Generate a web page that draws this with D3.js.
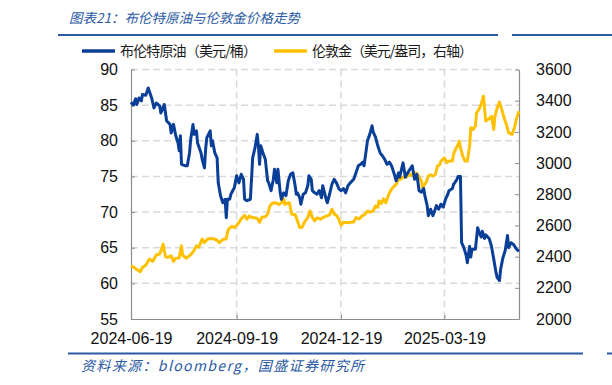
<!DOCTYPE html>
<html>
<head>
<meta charset="utf-8">
<script src="https://cdn.jsdelivr.net/npm/d3@7"></script>
<style>
  html, body { margin: 0; padding: 0; background: #fff; }
  svg { display: block; }
</style>
</head>
<body>
<div id="chart"></div>
<script>
// Brent crude (USD/bbl), left axis
const oil = [
  ["2024-06-19",85.4],["2024-06-21",85.0],["2024-06-23",85.9],["2024-06-24",85.1],["2024-06-26",86.0],
  ["2024-06-28",85.6],["2024-06-29",86.5],["2024-07-02",86.4],["2024-07-04",87.4],["2024-07-07",86.0],
  ["2024-07-09",84.6],["2024-07-11",85.3],["2024-07-14",84.9],["2024-07-15",83.9],["2024-07-18",85.1],
  ["2024-07-20",82.8],["2024-07-23",82.3],["2024-07-24",81.1],["2024-07-26",82.3],["2024-07-28",80.7],
  ["2024-07-30",79.7],["2024-07-31",78.6],["2024-08-01",80.7],["2024-08-02",76.7],["2024-08-05",76.5],
  ["2024-08-07",76.5],["2024-08-09",78.3],["2024-08-10",80.2],["2024-08-12",82.3],["2024-08-13",80.9],
  ["2024-08-15",81.4],["2024-08-16",79.7],["2024-08-19",78.3],["2024-08-20",77.4],["2024-08-22",76.2],
  ["2024-08-23",78.8],["2024-08-24",80.4],["2024-08-27",81.4],["2024-08-28",79.3],["2024-08-29",80.0],
  ["2024-08-31",78.3],["2024-09-02",77.6],["2024-09-03",74.1],["2024-09-05",72.3],["2024-09-07",71.3],
  ["2024-09-09",71.8],["2024-09-10",69.2],["2024-09-11",71.8],["2024-09-13",71.8],["2024-09-14",72.5],
  ["2024-09-17",73.4],["2024-09-19",75.1],["2024-09-21",74.1],["2024-09-23",75.3],["2024-09-25",74.6],
  ["2024-09-26",71.8],["2024-09-28",71.6],["2024-10-01",71.8],["2024-10-03",77.6],["2024-10-05",79.0],
  ["2024-10-07",80.9],["2024-10-08",79.3],["2024-10-09",76.7],["2024-10-10",79.3],["2024-10-12",78.3],
  ["2024-10-14",77.4],["2024-10-16",74.4],["2024-10-17",74.1],["2024-10-19",73.0],["2024-10-21",74.6],
  ["2024-10-22",76.0],["2024-10-24",74.1],["2024-10-25",76.0],["2024-10-27",72.7],["2024-10-28",71.8],
  ["2024-10-30",72.7],["2024-11-01",72.3],["2024-11-03",74.4],["2024-11-05",75.3],["2024-11-07",75.5],
  ["2024-11-09",73.7],["2024-11-10",72.5],["2024-11-11",72.7],["2024-11-13",72.0],["2024-11-14",71.1],
  ["2024-11-16",72.5],["2024-11-18",72.7],["2024-11-20",73.7],["2024-11-21",75.1],["2024-11-23",74.6],
  ["2024-11-24",73.0],["2024-11-26",72.7],["2024-11-28",72.5],["2024-11-30",73.0],["2024-12-02",72.0],
  ["2024-12-03",73.7],["2024-12-06",71.8],["2024-12-07",71.3],["2024-12-09",72.5],["2024-12-11",73.9],
  ["2024-12-13",74.6],["2024-12-15",74.1],["2024-12-17",73.3],["2024-12-19",73.0],["2024-12-21",73.3],
  ["2024-12-23",72.7],["2024-12-25",73.7],["2024-12-27",74.1],["2024-12-30",74.6],["2025-01-01",75.5],
  ["2025-01-03",76.5],["2025-01-05",76.7],["2025-01-07",77.0],["2025-01-08",76.5],["2025-01-10",78.8],
  ["2025-01-11",80.0],["2025-01-13",80.9],["2025-01-15",82.1],["2025-01-16",81.2],["2025-01-18",80.5],
  ["2025-01-20",79.3],["2025-01-22",78.3],["2025-01-24",77.9],["2025-01-26",77.4],["2025-01-28",76.7],
  ["2025-01-30",77.0],["2025-02-01",76.5],["2025-02-03",75.5],["2025-02-05",74.4],["2025-02-07",75.5],
  ["2025-02-08",74.9],["2025-02-11",76.9],["2025-02-13",74.9],["2025-02-15",75.5],["2025-02-17",76.0],
  ["2025-02-19",76.5],["2025-02-21",74.6],["2025-02-23",75.3],["2025-02-25",73.0],["2025-02-27",72.8],
  ["2025-03-01",73.3],["2025-03-02",72.3],["2025-03-04",70.9],["2025-03-05",69.5],["2025-03-07",70.4],
  ["2025-03-09",69.5],["2025-03-10",69.9],["2025-03-12",70.9],["2025-03-14",70.4],["2025-03-16",71.1],
  ["2025-03-18",70.7],["2025-03-20",71.8],["2025-03-22",72.5],["2025-03-23",73.0],["2025-03-26",73.3],
  ["2025-03-27",73.9],["2025-03-28",74.1],["2025-03-30",74.6],["2025-03-31",75.0],["2025-04-02",75.0],
  ["2025-04-03",65.7],["2025-04-05",65.0],["2025-04-07",63.9],["2025-04-08",62.9],["2025-04-10",65.2],
  ["2025-04-11",63.7],["2025-04-12",64.8],["2025-04-14",64.8],["2025-04-15",64.8],["2025-04-17",67.8],
  ["2025-04-18",67.3],["2025-04-20",66.5],["2025-04-21",67.3],["2025-04-23",66.3],["2025-04-24",66.8],
  ["2025-04-27",66.3],["2025-04-29",65.2],["2025-05-01",63.4],["2025-05-03",61.5],["2025-05-04",60.8],
  ["2025-05-06",60.4],["2025-05-07",62.0],["2025-05-09",63.6],["2025-05-11",64.6],["2025-05-13",66.7],
  ["2025-05-14",65.0],["2025-05-16",65.7],["2025-05-18",65.5],["2025-05-20",65.0],["2025-05-22",64.6],
  ["2025-05-23",64.5]
];

// London gold (USD/oz), right axis
const gold = [
  ["2024-06-19",2341],["2024-06-22",2330],["2024-06-24",2318],["2024-06-27",2303],["2024-06-29",2330],
  ["2024-07-02",2346],["2024-07-05",2384],["2024-07-08",2370],["2024-07-11",2410],["2024-07-14",2416],
  ["2024-07-17",2480],["2024-07-19",2400],["2024-07-21",2395],["2024-07-24",2405],["2024-07-26",2370],
  ["2024-07-28",2390],["2024-07-31",2392],["2024-08-02",2469],["2024-08-03",2410],["2024-08-06",2390],
  ["2024-08-09",2405],["2024-08-12",2430],["2024-08-15",2469],["2024-08-17",2460],["2024-08-20",2512],
  ["2024-08-22",2490],["2024-08-25",2515],["2024-08-29",2517],["2024-09-02",2505],["2024-09-04",2490],
  ["2024-09-07",2510],["2024-09-10",2515],["2024-09-11",2555],["2024-09-12",2576],["2024-09-15",2595],
  ["2024-09-17",2585],["2024-09-20",2608],["2024-09-22",2630],["2024-09-24",2650],["2024-09-26",2665],
  ["2024-09-28",2640],["2024-09-30",2660],["2024-10-02",2652],["2024-10-04",2650],["2024-10-07",2645],
  ["2024-10-09",2620],["2024-10-11",2652],["2024-10-14",2655],["2024-10-16",2672],["2024-10-18",2725],
  ["2024-10-20",2742],["2024-10-23",2745],["2024-10-26",2735],["2024-10-28",2745],["2024-10-30",2772],
  ["2024-10-31",2735],["2024-11-02",2742],["2024-11-04",2745],["2024-11-06",2672],["2024-11-09",2670],
  ["2024-11-11",2630],["2024-11-13",2586],["2024-11-15",2588],["2024-11-17",2620],["2024-11-20",2650],
  ["2024-11-22",2693],["2024-11-24",2650],["2024-11-26",2630],["2024-11-28",2648],["2024-12-01",2640],
  ["2024-12-03",2650],["2024-12-06",2660],["2024-12-09",2668],["2024-12-11",2704],["2024-12-13",2672],
  ["2024-12-15",2665],["2024-12-17",2640],["2024-12-19",2601],["2024-12-21",2620],["2024-12-24",2617],
  ["2024-12-27",2620],["2024-12-30",2622],["2025-01-01",2650],["2025-01-04",2642],["2025-01-06",2660],
  ["2025-01-09",2672],["2025-01-11",2693],["2025-01-13",2685],["2025-01-16",2693],["2025-01-18",2725],
  ["2025-01-20",2717],["2025-01-21",2757],["2025-01-23",2740],["2025-01-25",2770],["2025-01-27",2745],
  ["2025-01-29",2789],["2025-01-31",2821],["2025-02-02",2842],["2025-02-05",2864],["2025-02-07",2896],
  ["2025-02-09",2896],["2025-02-11",2910],["2025-02-14",2910],["2025-02-16",2928],["2025-02-18",2920],
  ["2025-02-20",2938],["2025-02-23",2935],["2025-02-25",2910],["2025-02-27",2885],["2025-02-28",2842],
  ["2025-03-03",2874],["2025-03-05",2917],["2025-03-07",2925],["2025-03-09",2917],["2025-03-11",2925],
  ["2025-03-13",2981],["2025-03-15",2990],["2025-03-16",3013],["2025-03-19",3034],["2025-03-21",3003],
  ["2025-03-23",3013],["2025-03-26",3013],["2025-03-27",3056],["2025-03-28",3077],["2025-03-31",3120],
  ["2025-04-01",3141],["2025-04-02",3098],["2025-04-04",3045],["2025-04-06",3013],["2025-04-08",3013],
  ["2025-04-10",3109],["2025-04-11",3226],["2025-04-13",3215],["2025-04-15",3237],["2025-04-16",3322],
  ["2025-04-18",3343],["2025-04-20",3376],["2025-04-22",3429],["2025-04-23",3354],["2025-04-24",3269],
  ["2025-04-26",3280],["2025-04-28",3290],["2025-04-29",3300],["2025-05-01",3216],["2025-05-02",3300],
  ["2025-05-04",3354],["2025-05-06",3391],["2025-05-08",3343],["2025-05-10",3290],["2025-05-12",3247],
  ["2025-05-14",3194],["2025-05-17",3184],["2025-05-19",3226],["2025-05-21",3290],["2025-05-23",3333]
];

const dateTicks = ["2024-06-19", "2024-09-19", "2024-12-19", "2025-03-19"];
const oilTicks = [55, 60, 65, 70, 75, 80, 85, 90];
const goldTicks = [2000, 2200, 2400, 2600, 2800, 3000, 3200, 3400, 3600];
const xDomain = ["2024-06-19", "2025-05-23"];

const title = "图表21：布伦特原油与伦敦金价格走势";
const source = "资料来源：bloomberg，国盛证券研究所";
const seriesNames = ["布伦特原油（美元/桶）", "伦敦金（美元/盎司，右轴）"];

const W = 612, H = 385;
const plot = { left: 131, right: 519, top: 69.5, bottom: 319 };
const BLUE = "#0a3f98", GOLD = "#ffc000", NAVY = "#2b5aa3";
const cjk = "'Noto Sans CJK SC', 'Noto Sans', sans-serif";
const num = "'Liberation Sans', Arial, sans-serif";

const parse = d3.timeParse("%Y-%m-%d");

const svg = d3.select("#chart").append("svg")
  .attr("width", W).attr("height", H);

const x = d3.scaleTime()
  .domain(xDomain.map(parse))
  .range([plot.left, plot.right]);
const yL = d3.scaleLinear().domain([55, 90]).range([plot.bottom, plot.top]);
const yR = d3.scaleLinear().domain([2000, 3600]).range([plot.bottom, plot.top]);

// title and rules
svg.append("text")
  .attr("x", 69).attr("y", 23)
  .attr("font-family", cjk).attr("font-size", 13.5)
  .attr("font-style", "italic").attr("fill", NAVY)
  .text(title);

const rules = [[58, 498, 35], [512, 612, 35], [68, 583, 353.5], [607, 612, 353.5]];
svg.selectAll("line.rule").data(rules).enter().append("line")
  .attr("class", "rule")
  .attr("x1", d => d[0]).attr("x2", d => d[1])
  .attr("y1", d => d[2]).attr("y2", d => d[2])
  .attr("stroke", NAVY).attr("stroke-width", 2);

// legend
const legend = svg.append("g");
const legendItems = [
  { name: seriesNames[0], color: BLUE, x: 82, len: 137 },
  { name: seriesNames[1], color: GOLD, x: 274, len: 161 }
];
legendItems.forEach(item => {
  legend.append("line")
    .attr("x1", item.x).attr("x2", item.x + 33)
    .attr("y1", 51).attr("y2", 51)
    .attr("stroke", item.color).attr("stroke-width", 3.5);
  legend.append("text")
    .attr("x", item.x + 38).attr("y", 56)
    .attr("font-family", cjk).attr("font-size", 14)
    .attr("fill", "#1a1a1a")
    .attr("textLength", item.len).attr("lengthAdjust", "spacing")
    .text(item.name);
});

// gridlines
const grid = svg.append("g")
  .attr("stroke", "#d9d9d9").attr("stroke-width", 1.5)
  .attr("stroke-dasharray", "7,4");
grid.selectAll("line.h").data(oilTicks.slice(1)).enter().append("line")
  .attr("x1", plot.left).attr("x2", plot.right)
  .attr("y1", d => yL(d)).attr("y2", d => yL(d));
grid.selectAll("line.v").data(dateTicks.slice(1)).enter().append("line")
  .attr("x1", d => x(parse(d))).attr("x2", d => x(parse(d)))
  .attr("y1", plot.top).attr("y2", plot.bottom);

// axes
const axisColor = "#8c8c8c";
const styleAxis = g => {
  g.select(".domain").attr("stroke", axisColor).attr("stroke-width", 1.2);
  g.selectAll(".tick line").attr("stroke", axisColor);
  g.selectAll(".tick text").attr("font-family", num).attr("font-size", 16).attr("fill", "#111");
};

svg.append("g")
  .attr("transform", `translate(${plot.left},0)`)
  .call(d3.axisLeft(yL).tickValues(oilTicks).tickSizeInner(-4).tickSizeOuter(0).tickPadding(13))
  .call(styleAxis);

svg.append("g")
  .attr("transform", `translate(${plot.right},0)`)
  .call(d3.axisRight(yR).tickValues(goldTicks).tickFormat(d3.format("d"))
    .tickSizeInner(-4).tickSizeOuter(0).tickPadding(17))
  .call(styleAxis);

svg.append("g")
  .attr("transform", `translate(0,${plot.bottom})`)
  .call(d3.axisBottom(x).tickValues(dateTicks.map(parse))
    .tickFormat(d3.timeFormat("%Y-%m-%d")).tickSizeInner(-4).tickSizeOuter(0).tickPadding(14))
  .call(styleAxis);

// series
const lineOil = d3.line().x(d => x(parse(d[0]))).y(d => yL(d[1]));
const lineGold = d3.line().x(d => x(parse(d[0]))).y(d => yR(d[1]));

svg.append("path").datum(gold)
  .attr("d", lineGold).attr("fill", "none")
  .attr("stroke", GOLD).attr("stroke-width", 3)
  .attr("stroke-linejoin", "round");

svg.append("path").datum(oil)
  .attr("d", lineOil).attr("fill", "none")
  .attr("stroke", BLUE).attr("stroke-width", 3)
  .attr("stroke-linejoin", "round");

// source note
svg.append("text")
  .attr("x", 81).attr("y", 371)
  .attr("font-family", cjk).attr("font-size", 14)
  .attr("font-style", "italic").attr("fill", NAVY)
  .attr("textLength", 283).attr("lengthAdjust", "spacing")
  .text(source);
</script>
</body>
</html>
